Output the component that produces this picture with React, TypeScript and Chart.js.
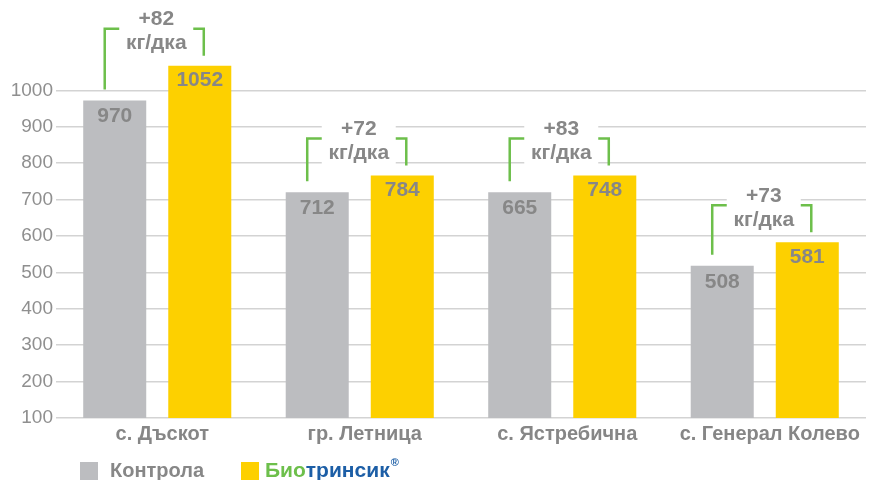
import { useEffect, useRef } from 'react';
import { Chart, registerables } from 'chart.js';

Chart.register(...registerables);

const categories = ['с. Дъскот', 'гр. Летница', 'с. Ястребична', 'с. Генерал Колево'];
// bar heights as drawn in the picture
const controlValues = [972, 720, 720, 518];
const bioValues = [1068, 766, 766, 583];
// value labels printed on the bars
const controlLabels = ['970', '712', '665', '508'];
const bioLabels = ['1052', '784', '748', '581'];
const gainLabels = ['+82', '+72', '+83', '+73'];
const unitLabel = 'кг/дка';
const seriesNames = ['Контрола', 'Био', 'тринсик', '®'];
const yMin = 100;
const yMax = 1100;
const yTickMax = 1000;
const yStep = 100;

const FONT = '"Liberation Sans", Arial, Helvetica, sans-serif';
const GRAY_BAR = '#bcbdc0';
const YELLOW = '#fdd000';
const GREEN = '#6dbf4b';
const BLUE = '#1c5ea6';
const TEXT = '#878787';

const annotatePlugin = {
  id: 'annotate',
  afterDatasetsDraw(chart: any) {
    const ctx = chart.ctx as CanvasRenderingContext2D;
    const m0 = chart.getDatasetMeta(0);
    const m1 = chart.getDatasetMeta(1);
    ctx.save();
    ctx.textAlign = 'center';
    ctx.textBaseline = 'middle';
    ctx.font = `bold 21px ${FONT}`;
    ctx.fillStyle = TEXT;
    m0.data.forEach((bar: any, i: number) => {
      ctx.fillText(controlLabels[i], bar.x, bar.y + 16);
    });
    m1.data.forEach((bar: any, i: number) => {
      ctx.fillText(bioLabels[i], bar.x, bar.y + 15);
    });

    for (let i = 0; i < categories.length; i++) {
      const g = m0.data[i];
      const b = m1.data[i];
      const lx = g.x - 10;
      const rx = b.x + 4;
      const top = b.y - 37;
      const lb = g.y - 11;
      const rb = b.y - 10;
      ctx.strokeStyle = GREEN;
      ctx.lineWidth = 2.5;
      ctx.lineJoin = 'miter';
      ctx.lineCap = 'butt';
      ctx.beginPath();
      ctx.moveTo(lx, lb);
      ctx.lineTo(lx, top);
      ctx.lineTo(rx, top);
      ctx.lineTo(rx, rb);
      ctx.stroke();
      const cx = (lx + rx) / 2 + 2;
      ctx.fillStyle = '#ffffff';
      ctx.fillRect(cx - 37, top - 22, 74, 50);
      ctx.fillStyle = TEXT;
      ctx.font = `bold 21px ${FONT}`;
      ctx.fillText(gainLabels[i], cx, top - 9);
      ctx.fillText(unitLabel, cx, top + 15);
    }
    ctx.restore();
  },
  afterDraw(chart: any) {
    const ctx = chart.ctx as CanvasRenderingContext2D;
    const left = chart.chartArea.left;
    const cy = 471;
    ctx.save();
    ctx.textBaseline = 'middle';
    ctx.textAlign = 'left';
    ctx.fillStyle = GRAY_BAR;
    ctx.fillRect(left + 24, cy - 9, 18, 18);
    ctx.font = `bold 20px ${FONT}`;
    ctx.fillStyle = TEXT;
    ctx.fillText(seriesNames[0], left + 54, cy);
    ctx.fillStyle = YELLOW;
    ctx.fillRect(left + 185, cy - 9, 18, 18);
    let x = left + 209;
    ctx.font = `bold 21px ${FONT}`;
    ctx.fillStyle = GREEN;
    ctx.fillText(seriesNames[1], x, cy);
    x += ctx.measureText(seriesNames[1]).width;
    ctx.fillStyle = BLUE;
    ctx.fillText(seriesNames[2], x, cy);
    x += ctx.measureText(seriesNames[2]).width + 1;
    ctx.font = `bold 11px ${FONT}`;
    ctx.fillText(seriesNames[3], x, cy - 8);
    ctx.restore();
  },
};

export default function App() {
  const ref = useRef<HTMLCanvasElement | null>(null);
  useEffect(() => {
    document.body.style.margin = '0';
    const canvas = ref.current;
    if (!canvas) return;
    const chart = new Chart(canvas, {
      type: 'bar',
      data: {
        labels: categories,
        datasets: [
          {
            label: 'Контрола',
            data: controlValues,
            backgroundColor: GRAY_BAR,
            categoryPercentage: 0.84,
            barPercentage: 0.741,
          },
          {
            label: 'Биотринсик',
            data: bioValues,
            backgroundColor: YELLOW,
            categoryPercentage: 0.84,
            barPercentage: 0.741,
          },
        ],
      },
      options: {
        responsive: false,
        animation: false,
        layout: { padding: { top: 54, left: 11, right: 10, bottom: 30 } },
        plugins: {
          legend: { display: false },
          tooltip: { enabled: false },
        },
        scales: {
          x: {
            grid: { display: false, drawTicks: false },
            border: { display: false },
            ticks: {
              color: '#868686',
              font: { family: FONT, size: 20, weight: 'bold' },
              padding: 4,
              labelOffset: 5,
            },
          },
          y: {
            min: yMin,
            max: yMax,
            border: { display: false },
            grid: {
              drawTicks: false,
              lineWidth: 1.5,
              color: (c: any) => (c.tick && c.tick.value > yTickMax ? 'rgba(0,0,0,0)' : '#d3d3d3'),
            },
            afterFit: (scale: any) => {
              scale.width = 45;
            },
            ticks: {
              stepSize: yStep,
              padding: 3,
              color: '#8f8f8f',
              font: { family: FONT, size: 19 },
              callback: (v: any) => (Number(v) > yTickMax ? '' : String(v)),
            },
          },
        },
      },
      plugins: [annotatePlugin],
    });
    return () => chart.destroy();
  }, []);
  return (
    <div style={{ width: 876, height: 480 }}>
      <canvas ref={ref} width={876} height={480} />
    </div>
  );
}
